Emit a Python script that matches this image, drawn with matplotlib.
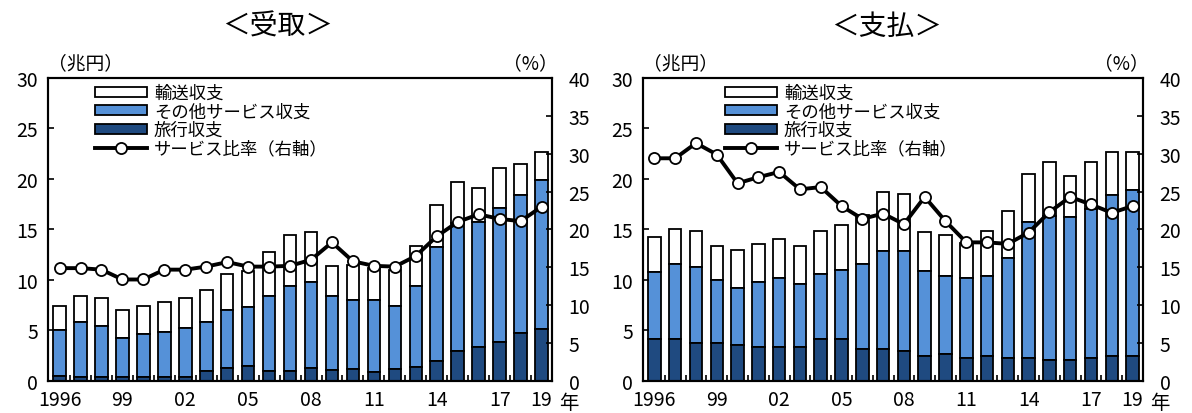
import matplotlib
matplotlib.use("Agg")
import matplotlib.pyplot as plt
import numpy as np

plt.rcParams['font.family'] = ['Noto Sans CJK JP', 'DejaVu Sans']

# data: 1996-2019, 兆円 and %
years = list(range(1996, 2020))
tick_idx = [0, 3, 6, 9, 12, 15, 18, 21, 23]
tick_labels = ["1996", "99", "02", "05", "08", "11", "14", "17", "19"]

rec_travel = [0.45, 0.4, 0.4, 0.4, 0.4, 0.4, 0.4, 1.0, 1.25, 1.45, 1.0, 1.0,
              1.25, 1.05, 1.2, 0.85, 1.2, 1.35, 2.0, 3.0, 3.4, 3.85, 4.75, 5.15]
rec_other = [4.63, 5.47, 5.08, 3.89, 4.28, 4.48, 4.88, 4.87, 5.81, 5.84, 7.38, 8.37,
             8.52, 7.40, 6.85, 7.20, 6.26, 8.02, 11.23, 12.6, 12.37, 13.31, 13.67, 14.78]
rec_transport = [2.37, 2.58, 2.77, 2.77, 2.77, 2.97, 2.97, 3.17, 3.50, 3.61, 4.36, 5.08,
                 4.95, 2.91, 3.45, 3.15, 3.56, 3.96, 4.20, 4.14, 3.37, 3.96, 3.07, 2.71]
rec_ratio = [14.9, 14.9, 14.7, 13.4, 13.4, 14.7, 14.7, 15.1, 15.7, 15.1, 15.1, 15.2,
             16.0, 18.3, 15.8, 15.2, 15.1, 16.5, 19.1, 21.0, 22.0, 21.4, 21.1, 23.0]

pay_travel = [4.16, 4.16, 3.76, 3.76, 3.56, 3.4, 3.4, 3.4, 4.16, 4.16, 3.17, 3.17,
              2.97, 2.44, 2.64, 2.25, 2.44, 2.25, 2.25, 2.05, 2.05, 2.25, 2.44, 2.44]
pay_other = [6.60, 7.39, 7.56, 6.24, 5.68, 6.37, 6.77, 6.17, 6.40, 6.80, 8.38, 9.70,
             9.90, 8.48, 7.76, 7.98, 7.92, 9.90, 13.46, 14.25, 14.19, 14.75, 15.98, 16.50]
pay_transport = [3.53, 3.50, 3.56, 3.33, 3.70, 3.76, 3.92, 3.76, 4.32, 4.49, 4.85, 5.87,
                 5.68, 3.80, 4.09, 3.47, 4.52, 4.68, 4.82, 5.35, 4.09, 4.65, 4.22, 3.70]
pay_ratio = [29.4, 29.4, 31.4, 29.9, 26.1, 26.9, 27.6, 25.3, 25.6, 23.1, 21.4, 22.1,
             20.7, 24.3, 21.1, 18.3, 18.3, 18.1, 19.6, 22.3, 24.3, 23.3, 22.2, 23.1]

labels = ["輸送収支", "その他サービス収支", "旅行収支", "サービス比率（右軸）"]
c_dark = "#1f4a80"
c_blue = "#5591d8"

fig = plt.figure(figsize=(11.92, 4.14), dpi=100)


def panel(rect, travel, other, transport, ratio, title, title_x, leg_x):
    ax = fig.add_axes(rect)
    x = np.arange(len(years))
    travel = np.array(travel)
    other = np.array(other)
    transport = np.array(transport)
    w = 0.6
    b3 = ax.bar(x, transport, w, bottom=travel + other, color="white", edgecolor="black", linewidth=1.3)
    b2 = ax.bar(x, other, w, bottom=travel, color=c_blue, edgecolor="black", linewidth=1.3)
    b1 = ax.bar(x, travel, w, color=c_dark, edgecolor="black", linewidth=1.3)
    ax.set_xlim(-0.55, 23.5)
    ax.set_ylim(0, 30)
    ax.set_yticks(range(0, 31, 5))
    ax.set_xticks(tick_idx)
    ax.set_xticklabels(tick_labels)
    ax.set_xticks(np.arange(0.5, 23, 1), minor=True)
    ax.tick_params(axis="x", which="major", length=0, pad=6, labelsize=14)
    ax.tick_params(axis="x", which="minor", direction="in", length=4, width=1.2)
    ax.tick_params(axis="y", direction="in", length=4, width=1.2, labelsize=14, pad=7)
    for s in ax.spines.values():
        s.set_linewidth(1.5)

    ax2 = ax.twinx()
    ln, = ax2.plot(x, ratio, color="black", linewidth=2.8, marker="o", markersize=8,
                   markerfacecolor="white", markeredgecolor="black", markeredgewidth=1.3)
    ax2.set_ylim(0, 40)
    ax2.set_yticks(range(0, 41, 5))
    ax2.tick_params(axis="y", direction="in", length=4, width=1.2, labelsize=14, pad=12)
    for s in ax2.spines.values():
        s.set_linewidth(1.5)

    ax2.legend([b3, b2, b1, ln], labels, loc="upper left", bbox_to_anchor=(leg_x, 0.98),
               frameon=False, fontsize=12.5, handlelength=3.0, handleheight=0.5,
               handletextpad=0.4, labelspacing=0.02, borderpad=0, borderaxespad=0)

    ax.text(0.0, 1.015, "（兆円）", transform=ax.transAxes, fontsize=13.5, ha="left", va="bottom")
    ax.text(1.012, 1.015, "（%）", transform=ax.transAxes, fontsize=13.5, ha="right", va="bottom")
    ax.text(23.85, -0.072, "年", transform=ax.get_xaxis_transform(), fontsize=14, ha="left", va="center")
    fig.text(title_x, 0.935, title, fontsize=20, ha="center", va="center")
    return ax


panel([0.0403, 0.0773, 0.4228, 0.7319], rec_travel, rec_other, rec_transport, rec_ratio,
      "＜受取＞", 0.233, 0.093)
panel([0.5394, 0.0773, 0.4195, 0.7319], pay_travel, pay_other, pay_transport, pay_ratio,
      "＜支払＞", 0.744, 0.164)

fig.savefig("out.png", dpi=100)
